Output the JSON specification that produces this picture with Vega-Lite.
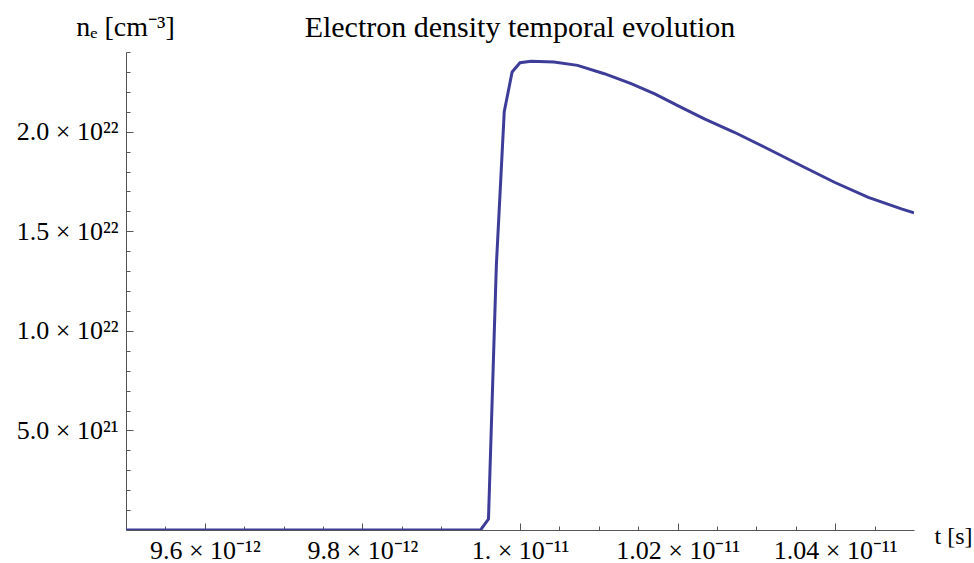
{
  "$schema": "https://vega.github.io/schema/vega-lite/v6.json",
  "width": 788,
  "height": 478,
  "autosize": {"type": "none"},
  "padding": {"left": 126, "top": 52, "right": 60, "bottom": 33},
  "background": "white",
  "title": {
    "text": "Electron density temporal evolution",
    "font": "Liberation Serif",
    "fontSize": 30,
    "fontWeight": "normal",
    "color": "black",
    "anchor": "middle",
    "frame": "group",
    "baseline": "alphabetic",
    "offset": -54
  },
  "data": {
    "values": [
      {"t": 9.5e-12, "ne": 0},
      {"t": 9.95e-12, "ne": 0},
      {"t": 9.96e-12, "ne": 5.5e20},
      {"t": 9.97e-12, "ne": 1.33e22},
      {"t": 9.98e-12, "ne": 2.10e22},
      {"t": 9.99e-12, "ne": 2.30e22},
      {"t": 1.0e-11, "ne": 2.346e22},
      {"t": 1.0014e-11, "ne": 2.353e22},
      {"t": 1.0043e-11, "ne": 2.350e22},
      {"t": 1.0073e-11, "ne": 2.333e22},
      {"t": 1.0107e-11, "ne": 2.291e22},
      {"t": 1.0141e-11, "ne": 2.241e22},
      {"t": 1.0171e-11, "ne": 2.190e22},
      {"t": 1.0204e-11, "ne": 2.123e22},
      {"t": 1.0234e-11, "ne": 2.064e22},
      {"t": 1.0272e-11, "ne": 1.997e22},
      {"t": 1.0315e-11, "ne": 1.913e22},
      {"t": 1.0357e-11, "ne": 1.829e22},
      {"t": 1.0399e-11, "ne": 1.746e22},
      {"t": 1.0442e-11, "ne": 1.670e22},
      {"t": 1.0484e-11, "ne": 1.612e22},
      {"t": 1.05e-11, "ne": 1.592e22}
    ]
  },
  "mark": {"type": "line", "color": "#3d3d99", "strokeWidth": 3, "clip": true},
  "encoding": {
    "x": {
      "field": "t",
      "type": "quantitative",
      "scale": {"domain": [9.5e-12, 1.05e-11], "nice": false, "zero": false},
      "axis": {
        "orient": "bottom",
        "grid": false,
        "domainColor": "#555555",
        "tickColor": "#555555",
        "values": [9.55e-12, 9.6e-12, 9.65e-12, 9.7e-12, 9.75e-12, 9.8e-12, 9.85e-12, 9.9e-12, 9.95e-12, 1.0e-11, 1.005e-11, 1.01e-11, 1.015e-11, 1.02e-11, 1.025e-11, 1.03e-11, 1.035e-11, 1.04e-11, 1.045e-11],
        "tickSize": {"condition": {"test": "round(datum.value*1e14) % 20 == 0", "value": -7}, "value": -4},
        "labelExpr": "round(datum.value*1e14) == 960 ? '9.6 × 10⁻¹²' : round(datum.value*1e14) == 980 ? '9.8 × 10⁻¹²' : round(datum.value*1e14) == 1000 ? '1. × 10⁻¹¹' : round(datum.value*1e14) == 1020 ? '1.02 × 10⁻¹¹' : round(datum.value*1e14) == 1040 ? '1.04 × 10⁻¹¹' : ''",
        "labelFont": "Liberation Serif",
        "labelFontSize": 26,
        "labelColor": "black",
        "labelPadding": 14,
        "labelOverlap": false,
        "labelFlush": false,
        "labelBound": false,
        "title": "t [s]",
        "titleFont": "Liberation Serif",
        "titleFontSize": 24,
        "titleFontWeight": "normal",
        "titleColor": "black",
        "titleAngle": 0,
        "titleAlign": "left",
        "titleBaseline": "alphabetic",
        "titleX": 808,
        "titleY": 13
      }
    },
    "y": {
      "field": "ne",
      "type": "quantitative",
      "scale": {"domain": [0, 2.4e22], "nice": false},
      "axis": {
        "orient": "left",
        "grid": false,
        "domainColor": "#555555",
        "tickColor": "#555555",
        "values": [1e21, 2e21, 3e21, 4e21, 5e21, 6e21, 7e21, 8e21, 9e21, 1e22, 1.1e22, 1.2e22, 1.3e22, 1.4e22, 1.5e22, 1.6e22, 1.7e22, 1.8e22, 1.9e22, 2e22, 2.1e22, 2.2e22, 2.3e22, 2.4e22],
        "tickSize": {"condition": {"test": "round(datum.value/1e21) % 5 == 0", "value": -7}, "value": -4},
        "labelExpr": "round(datum.value/1e21) == 5 ? '5.0 × 10²¹' : round(datum.value/1e21) == 10 ? '1.0 × 10²²' : round(datum.value/1e21) == 15 ? '1.5 × 10²²' : round(datum.value/1e21) == 20 ? '2.0 × 10²²' : ''",
        "labelFont": "Liberation Serif",
        "labelFontSize": 26,
        "labelColor": "black",
        "labelPadding": 15,
        "labelOverlap": false,
        "labelFlush": false,
        "labelBound": false,
        "title": "nₑ [cm⁻³]",
        "titleFont": "Liberation Serif",
        "titleFontSize": 28,
        "titleFontWeight": "normal",
        "titleColor": "black",
        "titleAngle": 0,
        "titleAlign": "center",
        "titleBaseline": "alphabetic",
        "titleX": -1,
        "titleY": -17
      }
    }
  },
  "config": {
    "view": {"stroke": null},
    "font": "Liberation Serif"
  }
}
